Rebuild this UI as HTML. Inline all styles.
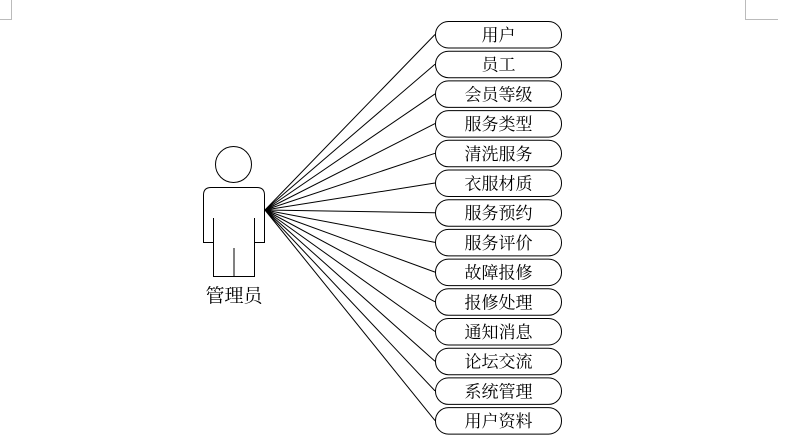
<!DOCTYPE html>
<html><head><meta charset="utf-8"><style>
html,body{margin:0;padding:0;background:#fff;}
svg{display:block;}
text{font-family:"Liberation Serif","Noto Serif CJK SC","Noto Sans CJK SC",serif;font-size:17px;fill:#000;}
</style></head><body>
<svg width="805" height="438" viewBox="0 0 805 438">
<g stroke="#bbb" stroke-width="1" fill="none">
<path d="M11.5,0 V19.5 H0"/>
<path d="M745.5,0 V19.5 H778"/>
</g>
<g stroke="#000" stroke-width="1" fill="none">
<circle cx="233.5" cy="164.5" r="18"/>
<path d="M203.5,242.5 V195 Q203.5,187.5 211,187.5 H257 Q264.5,187.5 264.5,195 V242.5 H254.5 V276.5 H213.5 V242.5 Z"/>
<path d="M213.5,218 V242.5 M254.5,218 V242.5 M234,248 V276.5"/>
<line x1="265" y1="210" x2="435" y2="34.5"/>
<line x1="265" y1="210" x2="435" y2="64.2"/>
<line x1="265" y1="210" x2="435" y2="93.9"/>
<line x1="265" y1="210" x2="435" y2="123.6"/>
<line x1="265" y1="210" x2="435" y2="153.3"/>
<line x1="265" y1="210" x2="435" y2="183"/>
<line x1="265" y1="210" x2="435" y2="212.7"/>
<line x1="265" y1="210" x2="435" y2="242.4"/>
<line x1="265" y1="210" x2="435" y2="272.1"/>
<line x1="265" y1="210" x2="435" y2="301.8"/>
<line x1="265" y1="210" x2="435" y2="331.5"/>
<line x1="265" y1="210" x2="435" y2="361.2"/>
<line x1="265" y1="210" x2="435" y2="390.9"/>
<line x1="265" y1="210" x2="435" y2="420.6"/>
</g>
<g stroke="#000" stroke-width="1" fill="#fff">
<rect x="435.5" y="21.5" width="126" height="26.5" rx="13"/>
<rect x="435.5" y="51.2" width="126" height="26.5" rx="13"/>
<rect x="435.5" y="80.9" width="126" height="26.5" rx="13"/>
<rect x="435.5" y="110.6" width="126" height="26.5" rx="13"/>
<rect x="435.5" y="140.3" width="126" height="26.5" rx="13"/>
<rect x="435.5" y="170" width="126" height="26.5" rx="13"/>
<rect x="435.5" y="199.7" width="126" height="26.5" rx="13"/>
<rect x="435.5" y="229.4" width="126" height="26.5" rx="13"/>
<rect x="435.5" y="259.1" width="126" height="26.5" rx="13"/>
<rect x="435.5" y="288.8" width="126" height="26.5" rx="13"/>
<rect x="435.5" y="318.5" width="126" height="26.5" rx="13"/>
<rect x="435.5" y="348.2" width="126" height="26.5" rx="13"/>
<rect x="435.5" y="377.9" width="126" height="26.5" rx="13"/>
<rect x="435.5" y="407.6" width="126" height="26.5" rx="13"/>
</g>
<g text-anchor="middle">
<text x="498.5" y="41">用户</text>
<text x="498.5" y="70.7">员工</text>
<text x="498.5" y="100.4">会员等级</text>
<text x="498.5" y="130.1">服务类型</text>
<text x="498.5" y="159.8">清洗服务</text>
<text x="498.5" y="189.5">衣服材质</text>
<text x="498.5" y="219.2">服务预约</text>
<text x="498.5" y="248.9">服务评价</text>
<text x="498.5" y="278.6">故障报修</text>
<text x="498.5" y="308.3">报修处理</text>
<text x="498.5" y="338">通知消息</text>
<text x="498.5" y="367.7">论坛交流</text>
<text x="498.5" y="397.4">系统管理</text>
<text x="498.5" y="427.1">用户资料</text>
</g>
<text x="234" y="302" text-anchor="middle" style="font-size:19px">管理员</text>
</svg>
</body></html>
